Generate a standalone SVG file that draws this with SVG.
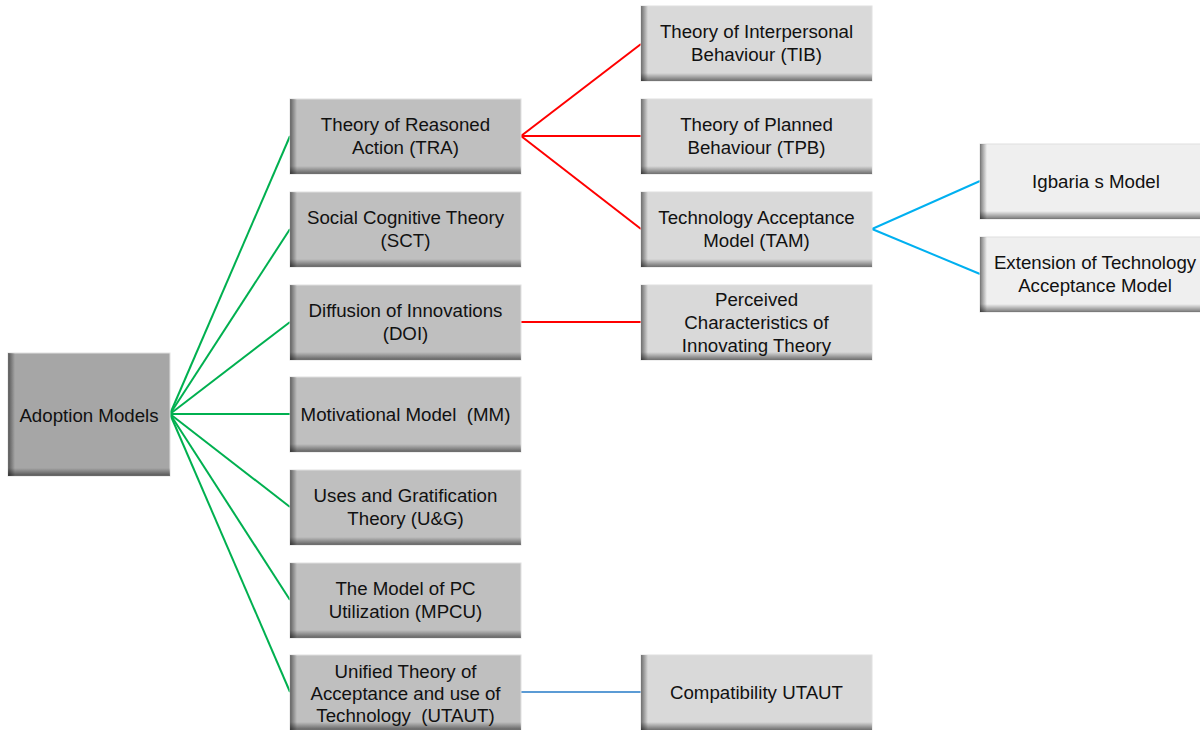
<svg xmlns="http://www.w3.org/2000/svg" width="1200" height="730" viewBox="0 0 1200 730">
<defs>
<linearGradient id="gl" x1="0" y1="0" x2="1" y2="0"><stop offset="0" stop-color="#000" stop-opacity="0.5"/><stop offset="1" stop-color="#000" stop-opacity="0"/></linearGradient>
<linearGradient id="gb" x1="0" y1="0" x2="0" y2="1"><stop offset="0" stop-color="#000" stop-opacity="0"/><stop offset="1" stop-color="#000" stop-opacity="0.5"/></linearGradient>
</defs>
<style>
text{font-family:"Liberation Sans",Arial,sans-serif;font-size:18.7px;fill:#111;text-anchor:middle}
.b0{fill:#a6a6a6}
.b1{fill:#bfbfbf}
.b2{fill:#d9d9d9}
.b3{fill:#efefef}
.bx{stroke:#e0e0e0;stroke-width:1}
.g{stroke:#00b050;stroke-width:2;fill:none}
.r{stroke:#ff0000;stroke-width:2;fill:none}
.c{stroke:#00b0f0;stroke-width:2;fill:none}
.u{stroke:#5b9bd5;stroke-width:2;fill:none}
</style>
<rect width="1200" height="730" fill="#fff"/>
<g id="connectors">
<line class="g" x1="170" y1="414" x2="290" y2="136"/>
<line class="g" x1="170" y1="414" x2="290" y2="229"/>
<line class="g" x1="170" y1="414" x2="290" y2="322"/>
<line class="g" x1="170" y1="414" x2="290" y2="414"/>
<line class="g" x1="170" y1="414" x2="290" y2="507"/>
<line class="g" x1="170" y1="414" x2="290" y2="600"/>
<line class="g" x1="170" y1="414" x2="290" y2="692"/>
<line class="r" x1="521" y1="136" x2="641" y2="44"/>
<line class="r" x1="521" y1="136" x2="641" y2="136"/>
<line class="r" x1="521" y1="136" x2="641" y2="229"/>
<line class="r" x1="521" y1="322" x2="641" y2="322"/>
<line class="c" x1="872" y1="229" x2="980" y2="181"/>
<line class="c" x1="872" y1="229" x2="980" y2="274"/>
<line class="u" x1="521" y1="692" x2="641" y2="692"/>
</g>
<g id="adoption">
<rect class="b0 bx" x="8" y="353" width="162" height="123"/>
<rect x="8" y="353" width="7" height="123" fill="url(#gl)"/>
<rect x="8" y="468" width="162" height="8" fill="url(#gb)"/>
<text x="89" y="422">Adoption Models</text>
</g>
<g id="tra">
<rect class="b1 bx" x="290" y="99" width="231" height="75"/>
<rect x="290" y="99" width="7" height="75" fill="url(#gl)"/>
<rect x="290" y="166" width="231" height="8" fill="url(#gb)"/>
<text x="405.5" y="131">Theory of Reasoned</text>
<text x="405.5" y="154">Action (TRA)</text>
</g>
<g id="sct">
<rect class="b1 bx" x="290" y="192" width="231" height="75"/>
<rect x="290" y="192" width="7" height="75" fill="url(#gl)"/>
<rect x="290" y="259" width="231" height="8" fill="url(#gb)"/>
<text x="405.5" y="224">Social Cognitive Theory</text>
<text x="405.5" y="247">(SCT)</text>
</g>
<g id="doi">
<rect class="b1 bx" x="290" y="285" width="231" height="75"/>
<rect x="290" y="285" width="7" height="75" fill="url(#gl)"/>
<rect x="290" y="352" width="231" height="8" fill="url(#gb)"/>
<text x="405.5" y="317">Diffusion of Innovations</text>
<text x="405.5" y="340">(DOI)</text>
</g>
<g id="mm">
<rect class="b1 bx" x="290" y="377" width="231" height="75"/>
<rect x="290" y="377" width="7" height="75" fill="url(#gl)"/>
<rect x="290" y="444" width="231" height="8" fill="url(#gb)"/>
<text x="405.5" y="421" xml:space="preserve">Motivational Model  (MM)</text>
</g>
<g id="ug">
<rect class="b1 bx" x="290" y="470" width="231" height="75"/>
<rect x="290" y="470" width="7" height="75" fill="url(#gl)"/>
<rect x="290" y="537" width="231" height="8" fill="url(#gb)"/>
<text x="405.5" y="502">Uses and Gratification</text>
<text x="405.5" y="525">Theory (U&amp;G)</text>
</g>
<g id="mpcu">
<rect class="b1 bx" x="290" y="563" width="231" height="75"/>
<rect x="290" y="563" width="7" height="75" fill="url(#gl)"/>
<rect x="290" y="630" width="231" height="8" fill="url(#gb)"/>
<text x="405.5" y="595">The Model of PC</text>
<text x="405.5" y="618">Utilization (MPCU)</text>
</g>
<g id="utaut">
<rect class="b1 bx" x="290" y="655" width="231" height="75"/>
<rect x="290" y="655" width="7" height="75" fill="url(#gl)"/>
<rect x="290" y="722" width="231" height="8" fill="url(#gb)"/>
<text x="405.5" y="678">Unified Theory of</text>
<text x="405.5" y="700">Acceptance and use of</text>
<text x="405.5" y="722" xml:space="preserve">Technology  (UTAUT)</text>
</g>
<g id="tib">
<rect class="b2 bx" x="641" y="6" width="231" height="75"/>
<rect x="641" y="6" width="7" height="75" fill="url(#gl)"/>
<rect x="641" y="73" width="231" height="8" fill="url(#gb)"/>
<text x="756.5" y="38">Theory of Interpersonal</text>
<text x="756.5" y="61">Behaviour (TIB)</text>
</g>
<g id="tpb">
<rect class="b2 bx" x="641" y="99" width="231" height="75"/>
<rect x="641" y="99" width="7" height="75" fill="url(#gl)"/>
<rect x="641" y="166" width="231" height="8" fill="url(#gb)"/>
<text x="756.5" y="131">Theory of Planned</text>
<text x="756.5" y="154">Behaviour (TPB)</text>
</g>
<g id="tam">
<rect class="b2 bx" x="641" y="192" width="231" height="75"/>
<rect x="641" y="192" width="7" height="75" fill="url(#gl)"/>
<rect x="641" y="259" width="231" height="8" fill="url(#gb)"/>
<text x="756.5" y="224">Technology Acceptance</text>
<text x="756.5" y="247">Model (TAM)</text>
</g>
<g id="pcit">
<rect class="b2 bx" x="641" y="285" width="231" height="75"/>
<rect x="641" y="285" width="7" height="75" fill="url(#gl)"/>
<rect x="641" y="352" width="231" height="8" fill="url(#gb)"/>
<text x="756.5" y="306">Perceived</text>
<text x="756.5" y="329">Characteristics of</text>
<text x="756.5" y="352">Innovating Theory</text>
</g>
<g id="compat">
<rect class="b2 bx" x="641" y="655" width="231" height="75"/>
<rect x="641" y="655" width="7" height="75" fill="url(#gl)"/>
<rect x="641" y="722" width="231" height="8" fill="url(#gb)"/>
<text x="756.5" y="699">Compatibility UTAUT</text>
</g>
<g id="igbaria">
<rect class="b3 bx" x="980" y="144" width="231" height="75"/>
<rect x="980" y="144" width="7" height="75" fill="url(#gl)"/>
<rect x="980" y="211" width="231" height="8" fill="url(#gb)"/>
<text x="1096" y="188">Igbaria s Model</text>
</g>
<g id="extension">
<rect class="b3 bx" x="980" y="237" width="231" height="75"/>
<rect x="980" y="237" width="7" height="75" fill="url(#gl)"/>
<rect x="980" y="304" width="231" height="8" fill="url(#gb)"/>
<text x="1095" y="269">Extension of Technology</text>
<text x="1095" y="292">Acceptance Model</text>
</g>
</svg>
